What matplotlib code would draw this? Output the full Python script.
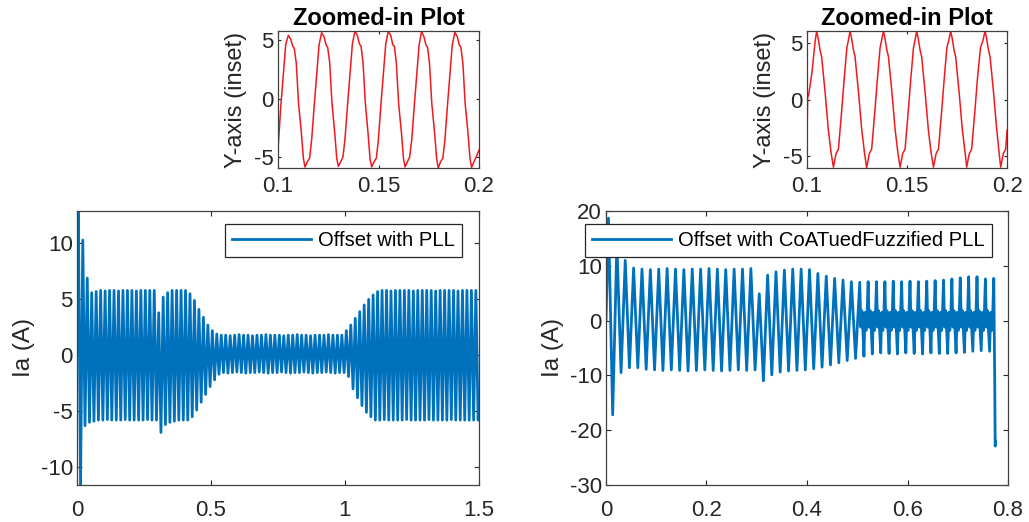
import matplotlib
matplotlib.use("Agg")
import matplotlib.pyplot as plt
from matplotlib.ticker import FuncFormatter

plt.rcParams['font.family'] = ['Liberation Sans', 'DejaVu Sans']
plt.rcParams['axes.unicode_minus'] = False

# waveform: one peak and one trough per 60 Hz cycle
f_grid = 60.0
peak_phase = 0.3
trough_phase = 0.8

# left panel: "Offset with PLL"
left_start = (0.0, 0.0)
left_end = (1.5, -4.4)
left_pos = [12.9, 10.3, 6.9, 5.6, 5.7,
            5.8, 5.75, 5.8, 5.8, 5.75, 5.8, 5.8, 5.8, 5.75, 5.8, 5.8, 5.8,
            5.8, 3.8, 5.2, 5.6,
            5.8, 5.8, 5.8, 5.8,
            5.5, 4.9, 4.1, 3.4, 2.7, 2.2, 1.9,
            1.8, 1.8, 1.75, 1.8, 1.85, 1.8, 1.8, 1.75, 1.8, 1.8, 1.85, 1.8, 1.8, 1.8,
            1.75, 1.8, 1.8, 1.85, 1.8, 1.8, 1.75, 1.8, 1.8, 1.8, 1.85, 1.8, 1.8, 1.8,
            2.2, 2.7, 3.3, 3.9, 4.5, 5.0, 5.4, 5.7,
            5.8, 5.8, 5.75, 5.8, 5.8, 5.8, 5.8, 5.75, 5.8, 5.8, 5.8, 5.8,
            5.75, 5.8, 5.8, 5.8, 5.8, 5.75, 5.8, 5.8, 5.8, 5.8]
left_neg = [-11.6, -6.3, -6.0, -5.9,
            -5.8, -5.8, -5.75, -5.8, -5.8, -5.8, -5.75, -5.8, -5.8, -5.8, -5.8, -5.75, -5.8,
            -5.8,
            -6.9, -6.2, -6.0, -5.9,
            -5.8, -5.8, -5.8,
            -5.5, -4.9, -4.2, -3.5, -2.8, -2.2, -1.7,
            -1.55, -1.6, -1.55, -1.5, -1.55, -1.6, -1.55, -1.55, -1.5, -1.55, -1.6, -1.55, -1.55, -1.5,
            -1.55, -1.6, -1.55, -1.55, -1.5, -1.55, -1.6, -1.55, -1.55, -1.5, -1.55, -1.6, -1.55, -1.55,
            -1.9, -3.0, -3.8, -4.5, -5.1, -5.5,
            -5.8, -5.8, -5.75, -5.8, -5.8, -5.8, -5.8, -5.75, -5.8, -5.8, -5.8, -5.8,
            -5.75, -5.8, -5.8, -5.8, -5.8, -5.75, -5.8, -5.8, -5.8, -5.8, -5.8, -5.8]

# right panel: "Offset with CoATuedFuzzified PLL"
right_start = (0.0, 0.0)
right_pos = [18.7, 14.0, 11.0, 9.6,
             9.4, 9.3, 9.4, 9.5, 9.4, 9.3, 9.4, 9.4, 9.5, 9.4, 9.3, 9.4, 9.4,
             9.5, 4.9, 8.3, 8.9, 9.2, 9.4, 9.4, 9.3, 8.6, 8.1, 7.7, 7.4, 7.1, 7.0, 7.1,
             7.1, 7.1, 7.2, 7.1, 7.2, 7.1, 7.2, 7.3,
             7.4, 7.6, 7.8, 8.0, 8.0, 7.6, 7.7]
right_neg = [-17.2, -9.5, -8.6, -8.6,
             -8.9, -9.0, -9.1, -9.0, -9.1, -9.2, -9.1, -9.0, -9.1, -9.2, -9.1, -9.0, -9.1,
             -9.0, -11.0, -9.9, -9.4, -9.2, -9.1, -9.0, -8.8, -8.5, -8.1, -7.7, -7.3, -6.9, -6.5, -6.1,
             -5.9, -6.0, -6.1, -5.9, -6.0, -6.1, -5.9, -6.0, -6.0, -5.9, -5.8, -5.6, -5.5, -5.6]
right_band_from = 30
band_down = [-1.2, 1.8, -1.8]
band_up = [1.5, -1.8, 1.2]
right_tail_t = [0.7735, 0.7745, 0.7752]
right_tail_v = [-10.2, -22.9, -22.0]

# insets, 0.1 .. 0.2 s
inset_l_t = [0.1000, 0.1014, 0.1026, 0.1038, 0.1051,
             0.1063, 0.1073, 0.1081, 0.1091, 0.1102, 0.1116, 0.1126, 0.1134,
             0.1146, 0.1157, 0.1167, 0.1180, 0.1192, 0.1204, 0.1217,
             0.1229, 0.1239, 0.1247, 0.1257, 0.1268, 0.1282, 0.1292, 0.1300,
             0.1312, 0.1323, 0.1333, 0.1346, 0.1358, 0.1370, 0.1383,
             0.1395, 0.1405, 0.1413, 0.1423, 0.1434, 0.1448, 0.1458, 0.1466,
             0.1478, 0.1489, 0.1499, 0.1512, 0.1524, 0.1536, 0.1549,
             0.1561, 0.1571, 0.1579, 0.1589, 0.1600, 0.1614, 0.1624, 0.1632,
             0.1644, 0.1655, 0.1665, 0.1678, 0.1690, 0.1702, 0.1714,
             0.1726, 0.1736, 0.1744, 0.1754, 0.1765, 0.1779, 0.1789, 0.1797,
             0.1809, 0.1820, 0.1830, 0.1843, 0.1855, 0.1867, 0.1880,
             0.1892, 0.1902, 0.1910, 0.1920, 0.1931, 0.1945, 0.1955, 0.1963,
             0.1975, 0.1986, 0.2000]
inset_l_v = [-4.3, -0.6, 2.0, 4.6, 5.43,
             5.1, 4.5, 4.3, 3.0, -0.4, -2.9, -5.1, -5.86,
             -5.4, -5.1, -3.6, -0.6, 2.0, 4.6, 5.66,
             5.3, 4.6, 4.4, 3.1, -0.3, -2.9, -5.1, -5.8,
             -5.4, -5.0, -3.5, -0.5, 2.1, 4.7, 5.8,
             5.4, 4.7, 4.5, 3.1, -0.3, -3.0, -5.2, -5.85,
             -5.4, -5.1, -3.6, -0.5, 2.1, 4.7, 5.8,
             5.4, 4.6, 4.5, 3.0, -0.4, -2.9, -5.1, -5.85,
             -5.4, -5.0, -3.6, -0.6, 2.0, 4.6, 5.75,
             5.3, 4.6, 4.4, 3.0, -0.4, -2.9, -5.1, -5.94,
             -5.4, -5.1, -3.6, -0.6, 2.0, 4.6, 5.7,
             5.3, 4.6, 4.4, 3.0, -0.4, -2.9, -5.1, -5.9,
             -5.4, -5.0, -4.4]
inset_r_t = [0.1000, 0.1003, 0.1008, 0.1023, 0.1032, 0.1040, 0.1048,
             0.1056, 0.1065, 0.1073, 0.1090, 0.1106, 0.1120, 0.1132,
             0.1145, 0.1157, 0.1174, 0.1185, 0.1199, 0.1207, 0.1215,
             0.1223, 0.1232, 0.1240, 0.1257, 0.1273, 0.1287, 0.1298,
             0.1311, 0.1323, 0.1340, 0.1351, 0.1365, 0.1373, 0.1382,
             0.1390, 0.1399, 0.1407, 0.1424, 0.1440, 0.1454, 0.1465,
             0.1478, 0.1490, 0.1507, 0.1518, 0.1532, 0.1540, 0.1548,
             0.1556, 0.1565, 0.1573, 0.1590, 0.1606, 0.1620, 0.1632,
             0.1645, 0.1657, 0.1674, 0.1685, 0.1699, 0.1709, 0.1718,
             0.1726, 0.1735, 0.1743, 0.1760, 0.1776, 0.1790, 0.1798,
             0.1811, 0.1823, 0.1840, 0.1851, 0.1867, 0.1880, 0.1890,
             0.1898, 0.1907, 0.1915, 0.1932, 0.1948, 0.1960, 0.1968,
             0.1981, 0.1993, 0.2000]
inset_r_v = [-3.0, 0.2, 0.4, 2.2, 3.7, 5.1, 6.1,
             5.4, 4.4, 3.8, 0.7, -2.6, -4.7, -6.0,
             -4.8, -4.4, -0.8, 1.7, 4.6, 5.3, 6.1,
             5.4, 4.4, 3.8, 0.7, -2.6, -4.7, -6.07,
             -4.8, -4.4, -0.8, 1.7, 4.6, 5.3, 6.1,
             5.4, 4.4, 3.8, 0.7, -2.6, -4.7, -6.0,
             -4.8, -4.4, -0.8, 1.7, 4.6, 5.3, 6.1,
             5.4, 4.4, 3.8, 0.7, -2.6, -4.7, -6.0,
             -4.8, -4.4, -0.8, 1.7, 4.6, 5.3, 6.1,
             5.4, 4.4, 3.8, 0.7, -2.6, -4.7, -6.0,
             -4.8, -4.4, -0.8, 1.7, 4.6, 5.3, 6.1,
             5.4, 4.4, 3.8, 0.7, -2.6, -4.7, -6.0,
             -4.8, -4.4, -2.7]

blue = '#0072BD'
red = '#ee1a1f'
dark = '#262626'


def wave(pos, neg, start, band_from=None):
    t = [start[0]]
    v = [start[1]]
    for k, p in enumerate(pos):
        t.append((k + peak_phase) / f_grid)
        v.append(p)
        if k >= len(neg):
            break
        banded = band_from is not None and k >= band_from
        if banded:
            n = len(band_down) + 1
            for j, b in enumerate(band_down):
                t.append((k + peak_phase + 0.5 * (j + 1) / n) / f_grid)
                v.append(b)
        t.append((k + trough_phase) / f_grid)
        v.append(neg[k])
        if banded and k + 1 < len(pos):
            n = len(band_up) + 1
            for j, b in enumerate(band_up):
                t.append((k + trough_phase + 0.5 * (j + 1) / n) / f_grid)
                v.append(b)
    return t, v


def style(ax, fs, ticklen, xpad):
    for s in ax.spines.values():
        s.set_color('#404040')
        s.set_linewidth(0.9)
    ax.tick_params(direction='in', top=True, right=True, length=ticklen,
                   width=0.8, colors=dark, labelsize=fs)
    ax.tick_params(axis='x', pad=xpad)
    ax.tick_params(axis='y', pad=3)
    fmt = FuncFormatter(lambda x, p: '%g' % x)
    ax.xaxis.set_major_formatter(fmt)
    ax.yaxis.set_major_formatter(fmt)


fig = plt.figure(figsize=(10.29, 5.22), dpi=100)

ax1 = fig.add_axes([0.0748, 0.0709, 0.3907, 0.5249])
t, v = wave(left_pos, left_neg, left_start)
t.append(left_end[0])
v.append(left_end[1])
ax1.plot(t, v, color=blue, lw=2.0, label='Offset with PLL')
ax1.set_xlim(0, 1.5)
ax1.set_ylim(-11.6, 12.9)
ax1.set_xticks([0, 0.5, 1, 1.5])
ax1.set_yticks([-10, -5, 0, 5, 10])
ax1.set_ylabel('Ia (A)', fontsize=17.5, color=dark)
style(ax1, 16, 3.5, 11)
ax1.legend(loc='upper right', bbox_to_anchor=(0.449, 0.571), bbox_transform=fig.transFigure,
           borderaxespad=0, fontsize=14.6, fancybox=False, edgecolor=dark, framealpha=1,
           handlelength=3.9, handletextpad=0.35, borderpad=0.35).get_frame().set_linewidth(0.9)

ax2 = fig.add_axes([0.5889, 0.0709, 0.3907, 0.5249])
t, v = wave(right_pos, right_neg, right_start, right_band_from)
t += right_tail_t
v += right_tail_v
ax2.plot(t, v, color=blue, lw=2.0, label='Offset with CoATuedFuzzified PLL')
ax2.set_xlim(0, 0.8)
ax2.set_ylim(-30, 20)
ax2.set_xticks([0, 0.2, 0.4, 0.6, 0.8])
ax2.set_yticks([-30, -20, -10, 0, 10, 20])
ax2.set_ylabel('Ia (A)', fontsize=17.5, color=dark)
style(ax2, 16, 3.5, 11)
ax2.legend(loc='upper right', bbox_to_anchor=(0.964, 0.571), bbox_transform=fig.transFigure,
           borderaxespad=0, fontsize=14.6, fancybox=False, edgecolor=dark, framealpha=1,
           handlelength=3.9, handletextpad=0.35, borderpad=0.35).get_frame().set_linewidth(0.9)

for pos, it, iv, ylim in [([0.2702, 0.6782, 0.1953, 0.2625], inset_l_t, inset_l_v, (-5.94, 5.8)),
                          ([0.7843, 0.6782, 0.1944, 0.2625], inset_r_t, inset_r_v, (-6.07, 6.1))]:
    ax = fig.add_axes(pos)
    ax.plot(it, iv, color=red, lw=1.1)
    ax.set_xlim(0.1, 0.2)
    ax.set_ylim(*ylim)
    ax.set_xticks([0.1, 0.15, 0.2])
    ax.set_yticks([-5, 0, 5])
    ax.set_ylabel('Y-axis (inset)', fontsize=17, color=dark, labelpad=5)
    ax.set_title('Zoomed-in Plot', fontsize=17, fontweight='bold', pad=4)
    style(ax, 16, 2.5, 6)

fig.savefig('out.png', dpi=100)
